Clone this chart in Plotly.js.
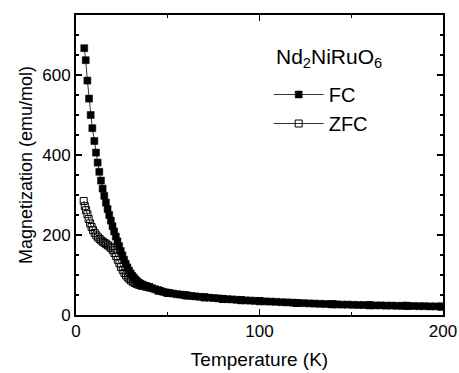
<!DOCTYPE html>
<html>
<head>
<meta charset="utf-8">
<script src="https://cdn.plot.ly/plotly-3.0.1.min.js"></script>
<style>html,body{margin:0;padding:0;background:#fff;}#chart{width:459px;height:373px;}</style>
</head>
<body>
<div id="chart"></div>
<script>
// Field-cooled (FC) data
const T_FC = [4.5,5.3,6.2,7.1,8.0,8.9,10.0,10.9,11.8,12.7,13.6,14.5,15.4,16.3,17.2,18.1,19.0,19.9,20.8,21.7,22.6,23.5,24.4,25.3,26.2,27.1,28.0,28.9,29.8,30.7,31.6,32.5,33.4,34.3,35.2,36.1,37.0,38.0,39.0,40.0,41.5,43,44.5,46,47.5,49,51,53,55,57,59,61,63,65,67.5,70,72.5,75,77.5,80,82.5,85,87.5,90,92.5,95,97.5,100,103,106,109,112,115,118,121,124,127,130,133,136,139,142,145,148,151,154,157,160,163,166,169,172,175,178,181,184,187,190,193,196,199];
const M_FC = [667,637,586,541,500,467,435,406,381,358,336,316,298,281,265,250,236,222,209,196,184,172,160,149,138,128,119,111,104,98,93,88,84,80.5,78,76,74,72.5,71,69.5,67,64.5,62,60,58,56.5,55,53.5,52,51,50,48.5,47.5,46.5,45.5,44.5,43.5,42.5,41.5,40.5,39.5,39,38,37.5,36.5,36,35.5,35,34,33.5,33,32,31.5,31,30,29.5,29,28.5,28,27.5,27,26.5,26,26,25.5,25,25,24.5,24,24,23.5,23.5,23,23,22.5,22.5,22,22,21.5,21.5,21];
// Zero-field-cooled (ZFC) data
const T_ZFC = [4.2,4.8,5.5,6.2,6.9,7.7,8.5,9.3,10.2,11.1,12.0,12.9,13.8,14.7,15.6,16.5,17.4,18.3,19.2,20.1,21.0,21.9,22.8,23.7,24.6,25.5,26.4,27.3,28.2,29.1,30.0,31.0,32.0,33.0,34.0,35.0,36,38,40,45,50,60,70,80,90,100,120,140,160,180,199];
const M_ZFC = [285,272,262,252,240,229,220,212,205,199,194,190,186,183,180,177,174,171,167,162,155,147,138,129,120,112,105,99,94,90,86,83,80,78,76,74.5,73,71,69,61,55,49,44,40,37,34.5,30,27,24.5,23,21];
const sampleLabel = 'Nd<sub>2</sub>NiRuO<sub>6</sub>';
const xTitle = 'Temperature (K)';
const yTitle = 'Magnetization (emu/mol)';

const FONT = 'Liberation Sans, Arial, Helvetica, sans-serif';

const traces = [
  {
    x: T_ZFC, y: M_ZFC, name: 'ZFC', type: 'scatter', mode: 'lines+markers',
    line: {color: '#000', width: 0.8},
    marker: {symbol: 'square-open', size: 7, color: '#000', line: {color: '#000', width: 1}}
  },
  {
    x: T_FC, y: M_FC, name: 'FC', type: 'scatter', mode: 'lines+markers',
    line: {color: '#000', width: 0.8},
    marker: {symbol: 'square', size: 7, color: '#000', line: {color: '#000', width: 0.5}}
  }
];

const axisCommon = {
  showline: true, linecolor: '#000', linewidth: 2, mirror: 'ticks',
  ticks: 'inside', ticklen: 6, tickwidth: 1.5, tickcolor: '#000',
  showgrid: false, zeroline: false,
  tickfont: {family: FONT, size: 17, color: '#000'},
  minor: {ticks: 'inside', ticklen: 3, tickwidth: 1.2, tickcolor: '#000', dtick: 50, showgrid: false}
};

const layout = {
  width: 459, height: 373,
  margin: {l: 76, r: 16, t: 15, b: 58},
  paper_bgcolor: '#fff', plot_bgcolor: '#fff',
  font: {family: FONT, color: '#000'},
  showlegend: true,
  legend: {
    x: 0.525, y: 0.80, xanchor: 'left', yanchor: 'top',
    traceorder: 'reversed',
    bgcolor: 'rgba(0,0,0,0)',
    font: {family: FONT, size: 20, color: '#000'},
    itemwidth: 50
  },
  annotations: [{
    text: sampleLabel, xref: 'paper', yref: 'paper',
    x: 0.5395, y: 0.856, xanchor: 'left', yanchor: 'middle',
    showarrow: false, font: {family: FONT, size: 21, color: '#000'}
  }],
  xaxis: Object.assign({}, axisCommon, {
    range: [0, 200], dtick: 100, tick0: 0,
    title: {text: xTitle, font: {family: FONT, size: 19, color: '#000'}, standoff: 12}
  }),
  yaxis: Object.assign({}, axisCommon, {
    range: [0, 750], dtick: 200, tick0: 0,
    title: {text: yTitle, font: {family: FONT, size: 18, color: '#000'}, standoff: 5}
  })
};

Plotly.newPlot('chart', traces, layout, {displayModeBar: false, staticPlot: true});
</script>
</body>
</html>
